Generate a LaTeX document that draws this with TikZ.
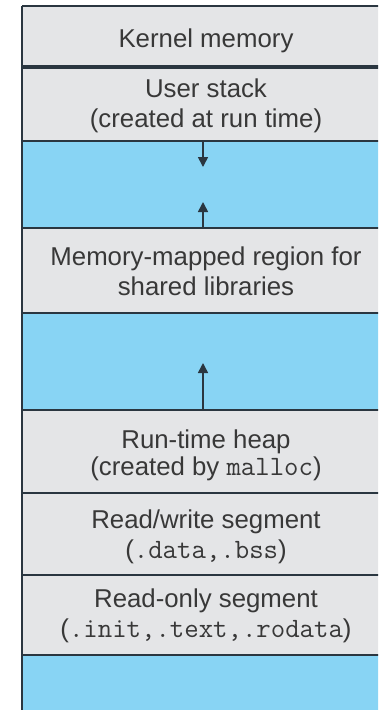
\documentclass[tikz,border=0pt]{standalone}
\usepackage{fontspec}
\setmainfont{Liberation Sans}
\usetikzlibrary{arrows.meta}
\definecolor{segGray}{HTML}{E4E5E7}
\definecolor{segBlue}{HTML}{88D4F4}
\definecolor{edge}{HTML}{2A3640}
\definecolor{ink}{HTML}{383838}
\newcommand\cmono[1]{{\fontsize{28}{30}\ttfamily #1}}
\begin{document}
\begin{tikzpicture}[x=1pt,y=-1pt,
  seg/.style={rectangle, inner sep=0pt, outer sep=0pt, minimum width=378pt, anchor=north west},
  gseg/.style={seg, fill=segGray},
  bseg/.style={seg, fill=segBlue},
  lbl/.style={anchor=base, text=ink, font=\fontsize{25.8}{30}\selectfont, inner sep=0pt},
  sepline/.style={draw=edge, line width=1.6pt},
  growarrow/.style={draw=edge, line width=1.6pt, -{Triangle[width=10pt,length=10pt]}}]
\useasboundingbox (0,0) rectangle (378,710);
\clip (0,0) rectangle (378,710);
\fill[white] (0,0) rectangle (378,710);
% segments
\node[gseg, minimum height=61pt] (kernel) at (22,6) {};
\node[gseg, minimum height=74pt] (stack) at (22,67) {};
\node[bseg, minimum height=87pt] (gap1) at (22,141) {};
\node[gseg, minimum height=85pt] (mmap) at (22,228) {};
\node[bseg, minimum height=97pt] (gap2) at (22,313) {};
\node[gseg, minimum height=83pt] (heap) at (22,410) {};
\node[gseg, minimum height=82pt] (rw) at (22,493) {};
\node[gseg, minimum height=80pt] (ro) at (22,575) {};
\node[bseg, minimum height=60pt] (gap3) at (22,655) {};
% separators
\draw[sepline, line width=2pt] (kernel.north west) -- (kernel.north east);
\draw[sepline, line width=3.4pt] (kernel.south west) -- (kernel.south east);
\draw[sepline] (stack.south west) -- (stack.south east);
\draw[sepline] (gap1.south west) -- (gap1.south east);
\draw[sepline] (mmap.south west) -- (mmap.south east);
\draw[sepline] (gap2.south west) -- (gap2.south east);
\draw[sepline] (heap.south west) -- (heap.south east);
\draw[sepline] (rw.south west) -- (rw.south east);
\draw[sepline] (ro.south west) -- (ro.south east);
\draw[sepline, line width=2pt] (kernel.north west) -- (gap3.south west);
% labels
\node[lbl] (tKernel) at (206,47) {Kernel memory};
\node[lbl] (tStackA) at (206,97) {User stack};
\node[lbl] (tStackB) at (206,127) {(created at run time)};
\node[lbl] (tMmapA) at (206,265) {Memory-mapped region for};
\node[lbl] (tMmapB) at (206,295) {shared libraries};
\node[lbl] (tHeapA) at (206,448) {Run-time heap};
\node[lbl] (tHeapB) at (206,475) {(created by \cmono{malloc})};
\node[lbl] (tRwA) at (206,528) {Read/write segment};
\node[lbl] (tRwB) at (206,558) {(\cmono{.data,.bss})};
\node[lbl] (tRoA) at (206,607) {Read-only segment};
\node[lbl] (tRoB) at (206,637) {(\cmono{.init,.text,.rodata})};
% growth arrows
\coordinate (stackTip) at (203,167);
\coordinate (mmapTip) at (203,202);
\coordinate (heapTip) at (203,363);
\draw[growarrow] (stackTip |- stack.south) -- (stackTip);
\draw[growarrow] (mmapTip |- mmap.north) -- (mmapTip);
\draw[growarrow] (heapTip |- heap.north) -- (heapTip);
\end{tikzpicture}
\end{document}
